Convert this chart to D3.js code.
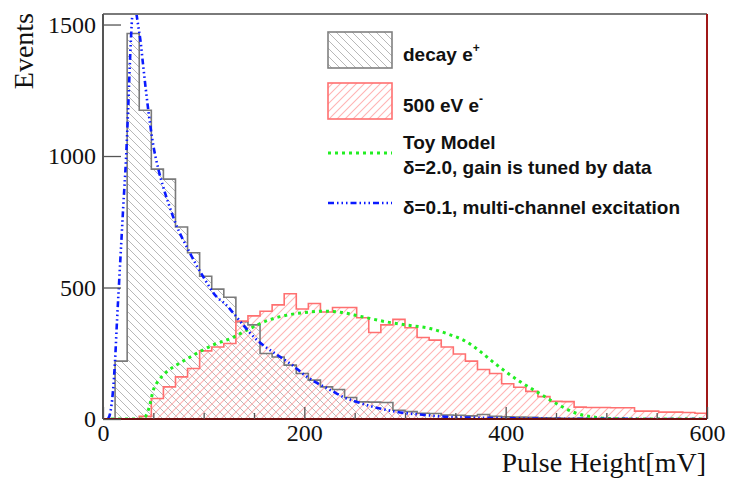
<!DOCTYPE html>
<html><head><meta charset="utf-8">
<script src="https://cdn.jsdelivr.net/npm/d3@7"></script>
<style>body{margin:0;background:#fff}svg{display:block}</style>
</head><body>
<svg id="c" width="731" height="479" xmlns="http://www.w3.org/2000/svg">
<defs>
<pattern id="hGray" patternUnits="userSpaceOnUse" width="8" height="8">
<path d="M0,0 L8,8 M-2,6 L2,10 M6,-2 L10,2" stroke="#b8b8b8" stroke-width="1" fill="none"/>
</pattern>
<pattern id="hRed" patternUnits="userSpaceOnUse" width="8" height="8">
<path d="M0,8 L8,0 M-2,2 L2,-2 M6,10 L10,6" stroke="#ffb4b4" stroke-width="1.1" fill="none"/>
</pattern>
<clipPath id="plotClip"><rect x="103" y="14" width="604" height="405"/></clipPath>
</defs>
</svg>
<script>
// ---- data ----
const binStart = 0, binWidth = 12; // 50 bins over 0-600 mV
const decayCounts = [0,220,1466,1174,950,912,730,632,543,494,
  463,370,358,249,236,205,173,148,122,112,
  82,65,64,63,33,28,22,21,15,14,
  12,17,10,8,7,6,5,4,3,3,
  2,2,2,1,1,1,1,0,0,0];
const e500Counts = [0,0,0,10,78,122,160,192,259,274,
  287,372,392,410,434,476,418,439,407,424,
  424,385,329,358,379,347,310,300,274,247,
  220,188,173,134,121,105,85,67,66,45,
  44,44,43,43,30,30,26,26,25,22];
const toyX = [8,40,43,46,50,54,58,65,73,90,109,126,143,163,183,206,220,236,256,282,300,325,345,358,373,388,400,412,435,452,470,490,510,540,600];
const toyY = [0,0,15,46,110,140,160,185,205,243,281,305,338,374,395,407,410,406,390,369,358,344,320,300,262,215,180,148,94,55,22,6,1,0,0];
const mcX = [5,7,10,12,14,16,18,20,23,25,27,29,31,33,35,37,40,45,50,55,60,65,72,85,100,113,121,129,138,153,171,176,188,200,212,226,238,256,275,292,320,342,370,400,450,500,600];
const mcY = [0,20,110,224,380,520,660,800,1000,1180,1380,1530,1580,1545,1495,1445,1340,1174,1040,950,880,820,745,641,538,464,439,405,363,300,249,236,205,168,138,110,85,60,40,27,15,8,5,3,1,0.5,0];
const xTicksMajor = [0,200,400,600];
const xTicksMinor = [50,100,150,250,300,350,450,500,550];
const yTicks = [0,500,1000,1500];
const legendLabels = ["decay e", "500 eV e", "Toy Model", "\u03b4=2.0, gain is tuned by data", "\u03b4=0.1, multi-channel excitation"];

// ---- layout ----
const svg = d3.select("#c");
const L = 103, R = 707, T = 14, B = 419;
const x = d3.scaleLinear().domain([0,600]).range([L,R]);
const y = d3.scaleLinear().domain([0,1540]).range([B,T]);

function stepPts(counts){
  const pts = [[binStart,0]];
  counts.forEach((v,i)=>{ const a=binStart+i*binWidth; pts.push([a,v]); pts.push([a+binWidth,v]); });
  pts.push([binStart+counts.length*binWidth,0]);
  return pts;
}
const line = d3.line().x(p=>x(p[0])).y(p=>y(p[1]));
const g = svg.append("g").attr("clip-path","url(#plotClip)");
const grayPts = stepPts(decayCounts), redPts = stepPts(e500Counts);
g.append("path").attr("d",line(grayPts)+"Z").attr("fill","url(#hGray)").attr("stroke","none");
g.append("path").attr("d",line(redPts)+"Z").attr("fill","url(#hRed)").attr("stroke","none");
g.append("path").attr("d",line(grayPts)).attr("fill","none").attr("stroke","#7a7a7a").attr("stroke-width",1.6);
g.append("path").attr("d",line(redPts)).attr("fill","none").attr("stroke","#ff7070").attr("stroke-width",1.6);

const curve = d3.line().x(p=>x(p[0])).y(p=>y(p[1])).curve(d3.curveMonotoneX);
g.append("path").attr("d",curve(toyX.map((v,i)=>[v,toyY[i]])))
  .attr("fill","none").attr("stroke","#22ee22").attr("stroke-width",3).attr("stroke-dasharray","3,4");
g.append("path").attr("d",curve(mcX.map((v,i)=>[v,mcY[i]])))
  .attr("fill","none").attr("stroke","#0a1aff").attr("stroke-width",2.6)
  .attr("stroke-dasharray","6,3,1.5,3,1.5,3,1.5,3");

// ---- frame & axes ----
svg.append("line").attr("x1",L).attr("x2",R).attr("y1",T).attr("y2",T).attr("stroke","#7a7a7a").attr("stroke-width",2);
svg.append("line").attr("x1",R).attr("x2",R).attr("y1",T).attr("y2",B).attr("stroke","#a01818").attr("stroke-width",2);
svg.append("line").attr("x1",L).attr("x2",L).attr("y1",T).attr("y2",B).attr("stroke","#555").attr("stroke-width",2);
svg.append("line").attr("x1",L).attr("x2",R).attr("y1",B).attr("y2",B).attr("stroke","#6e1010").attr("stroke-width",2);

const gx = svg.append("g").attr("transform",`translate(0,${B})`)
  .call(d3.axisBottom(x).tickValues(xTicksMajor).tickSize(-12).tickPadding(5).tickFormat(d3.format("d")));
gx.select(".domain").remove();
gx.selectAll(".tick line").attr("stroke","#555").attr("stroke-width",1.3);
gx.selectAll("text").attr("font-family","'Liberation Serif',serif").attr("font-size",24).attr("fill","#111");
const gxm = svg.append("g").attr("transform",`translate(0,${B})`)
  .call(d3.axisBottom(x).tickValues(xTicksMinor).tickSize(-6).tickFormat(""));
gxm.select(".domain").remove();
gxm.selectAll(".tick line").attr("stroke","#555").attr("stroke-width",1.3);

const gy = svg.append("g").attr("transform",`translate(${L},0)`)
  .call(d3.axisLeft(y).tickValues(yTicks).tickSize(-18).tickPadding(7).tickFormat(d3.format("d")));
gy.select(".domain").remove();
gy.selectAll(".tick line").attr("stroke","#555").attr("stroke-width",1.3);
gy.selectAll("text").attr("font-family","'Liberation Serif',serif").attr("font-size",24).attr("fill","#111");

svg.append("text").attr("transform","translate(33,13) rotate(-90)").attr("text-anchor","end")
  .attr("font-family","'Liberation Serif',serif").attr("font-size",28).attr("fill","#111").text("Events");
svg.append("text").attr("x",706).attr("y",472).attr("text-anchor","end")
  .attr("font-family","'Liberation Serif',serif").attr("font-size",28).attr("fill","#111").text("Pulse Height[mV]");

// ---- legend ----
const lg = svg.append("g").attr("font-family","'Liberation Sans',Arial,sans-serif").attr("font-weight","bold").attr("font-size",19).attr("fill","#111");
lg.append("rect").attr("x",328).attr("y",32).attr("width",64).attr("height",36).attr("fill","url(#hGray)").attr("stroke","#808080").attr("stroke-width",1.6);
lg.append("rect").attr("x",328).attr("y",83).attr("width",64).attr("height",36).attr("fill","url(#hRed)").attr("stroke","#ff7070").attr("stroke-width",1.6);
const t1 = lg.append("text").attr("x",403).attr("y",61).text(legendLabels[0]);
t1.append("tspan").attr("dy",-9).attr("font-size",12).text("+");
const t2 = lg.append("text").attr("x",403).attr("y",112).text(legendLabels[1]);
t2.append("tspan").attr("dy",-9).attr("font-size",12).text("-");
lg.append("line").attr("x1",328).attr("x2",392).attr("y1",153).attr("y2",153).attr("stroke","#22ee22").attr("stroke-width",3).attr("stroke-dasharray","3,4");
lg.append("text").attr("x",403).attr("y",149).text(legendLabels[2]);
lg.append("text").attr("x",403).attr("y",174).text(legendLabels[3]);
lg.append("line").attr("x1",328).attr("x2",392).attr("y1",203).attr("y2",203).attr("stroke","#0a1aff").attr("stroke-width",2.6).attr("stroke-dasharray","6,3,1.5,3,1.5,3,1.5,3");
lg.append("text").attr("x",403).attr("y",214).text(legendLabels[4]);
</script></body></html>
